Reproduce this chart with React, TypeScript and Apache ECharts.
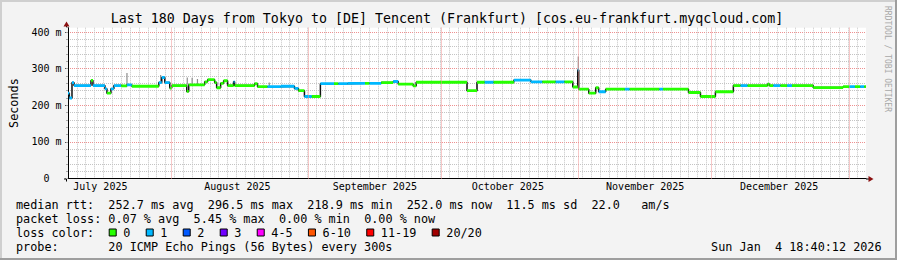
import React, { useEffect, useRef } from 'react';
import * as echarts from 'echarts';

const TITLE = 'Last 180 Days from Tokyo to [DE] Tencent (Frankfurt) [cos.eu-frankfurt.myqcloud.com]';
const Y_NAME = 'Seconds';
const Y_MAX = 412;
const X_DAYS = 180;
const MONTH_NAMES = ['July 2025', 'August 2025', 'September 2025', 'October 2025', 'November 2025', 'December 2025'];
const MONTH_LABEL_DAY = [7.3, 38.2, 69.2, 99.2, 130.2, 160.4];
const MONTH_START_DAY = [23.2, 54.2, 84.2, 115.2, 145.2, 176.2];

// median RTT steps (days since start, ms, packets lost of 20)
const SEG_START = [
  0, 0.3, 0.9, 1.35, 5.18, 5.63, 8.33, 8.78, 9.68, 10.35, 12.0, 13.28, 14.4, 20.48, 21.15, 21.83, 22.95, 23.4,
  26.78, 27.23, 30.83, 31.5, 33.08, 33.53, 34.43, 35.1, 36.0, 37.35, 37.58, 42.08, 42.75, 45.0, 48.0, 51.08,
  51.98, 53.33, 55.0, 56.93, 60.0, 61.0, 63.0, 67.0, 68.0, 70.65, 73.35, 74.48, 77.85, 78.53, 90.0, 92.26,
  94.0, 96.0, 100.58, 104.4, 107.0, 110.0, 112.0, 113.86, 114.98, 115.2, 117.46, 119.03, 119.7, 121.28, 125.6,
  126.7, 133.4, 134.2, 139.96, 142.66, 146.03, 150.08, 151.7, 153.3, 157.8, 158.2, 159.1, 160.7, 162.2, 163.3,
  168.08, 174.83, 176.2, 177.5, 178.7, 179.6,
];
const SEG_MEDIAN = [
  233, 220, 262, 254, 268, 254, 245, 233, 245, 254, 253, 256, 252, 262, 276, 262, 247, 254,
  238, 256, 264, 270, 262, 248, 260, 267, 254, 264, 254, 259, 251, 251, 252, 246,
  240, 224, 224, 259, 259, 259, 260, 260, 260, 262, 265, 258, 253, 263, 240, 263,
  263, 263, 269, 264, 264, 264, 264, 250, 296.5, 244, 233, 248, 237, 244, 244,
  244, 244, 244, 235, 224, 237, 254, 254, 254, 258, 254, 254, 254, 254, 254,
  248.5, 251, 251, 251, 251, 251,
];
const SEG_LOSS = [
  1, 1, 1, 1, 0, 1, 1, 0, 1, 1, 0, 1, 0, 1, 1, 1, 0, 0,
  0, 0, 0, 0, 0, 0, 0, 0, 0, 1, 0, 0, 0, 1, 1, 1,
  0, 1, 0, 1, 0, 1, 1, 0, 1, 0, 1, 0, 0, 0, 0, 0,
  1, 0, 1, 1, 0, 1, 0, 0, 1, 0, 0, 0, 1, 0, 1,
  0, 1, 0, 0, 0, 0, 0, 1, 0, 0, 0, 1, 0, 1, 0,
  0, 0, 1, 0, 1, 0,
];

// smoke (rtt spread) spikes
const SMOKE_DAY = [13.3, 20.9, 26.9, 28.0, 29.2, 45.4, 115.1];
const SMOKE_LO = [256, 265, 256, 256, 256, 252, 297];
const SMOKE_HI = [288, 283, 276, 275, 272, 262, 333];

const STAT_LINES = [
  'median rtt:  252.7 ms avg  296.5 ms max  218.9 ms min  252.0 ms now  11.5 ms sd  22.0   am/s',
  'packet loss: 0.07 % avg  5.45 % max  0.00 % min  0.00 % now',
];
const LOSS_TITLE = 'loss color:';
const LOSS_LABELS = ['0', '1', '2', '3', '4-5', '6-10', '11-19', '20/20'];
const LOSS_COLORS = ['#26ff00', '#00b8ff', '#0059ff', '#7000ff', '#ff00ff', '#ff5500', '#ff0000', '#a10000'];
const PROBE_LINE = 'probe:       20 ICMP Echo Pings (56 Bytes) every 300s';
const DATE_TEXT = 'Sun Jan  4 18:40:12 2026';
const WATERMARK = 'RRDTOOL / TOBI OETIKER';

const W = 897;
const H = 260;
const MONO = '"DejaVu Sans Mono", monospace';
const LFS = 11.8;
const CW = 0.6021 * LFS;
const LX = 16;
const ROW_Y = [204.5, 218.5, 232.5, 246.5];
const BOX0_X = 108.7;
const BOX_TEXT_GAP = 14.6;
const ENTRY_GAP = 15.3;

const GL = 66, GT = 27.7, GR = 31, GB = 81.5;
const AXIS_Y = H - GB;
const PLOT_R = W - GR;

function txt(x: number, y: number, text: string, font: string, align: string, fill = '#000', rotation = 0) {
  return {
    type: 'text', x, y, rotation, silent: true,
    style: {
      text, font, fill,
      textAlign: align, textVerticalAlign: 'middle',
      align, verticalAlign: 'middle',
    },
  };
}

function monoLine(line: string, x0: number, y: number) {
  const out: any[] = [];
  const re = /\S+(?: \S+)*/g;
  let m: RegExpExecArray | null;
  while ((m = re.exec(line))) {
    out.push(txt(x0 + m.index * CW, y, m[0], `${LFS}px ${MONO}`, 'left'));
  }
  return out;
}

function buildGraphic() {
  const g: any[] = [];
  // frame shading
  g.push({ type: 'rect', shape: { x: 0, y: 0, width: W, height: 2 }, style: { fill: '#cfcfcf' }, silent: true });
  g.push({ type: 'rect', shape: { x: 0, y: 0, width: 2, height: H }, style: { fill: '#cfcfcf' }, silent: true });
  g.push({ type: 'rect', shape: { x: 0, y: H - 2, width: W, height: 2 }, style: { fill: '#9e9e9e' }, silent: true });
  g.push({ type: 'rect', shape: { x: W - 2, y: 0, width: 2, height: H }, style: { fill: '#9e9e9e' }, silent: true });
  // title & watermark
  g.push(txt(447, 18.7, TITLE, `13.3px ${MONO}`, 'center'));
  g.push(txt(887, 59, WATERMARK, `8px ${MONO}`, 'center', '#a8a8a8', -Math.PI / 2));
  // axis extensions & arrows
  g.push({ type: 'line', shape: { x1: GL + 0.5, y1: GT, x2: GL + 0.5, y2: 25 }, style: { stroke: '#000', lineWidth: 1 }, silent: true });
  g.push({ type: 'line', shape: { x1: GL + 0.5, y1: AXIS_Y, x2: GL + 0.5, y2: AXIS_Y + 3 }, style: { stroke: '#000', lineWidth: 1 }, silent: true });
  g.push({ type: 'line', shape: { x1: PLOT_R, y1: AXIS_Y + 0.5, x2: PLOT_R + 3, y2: AXIS_Y + 0.5 }, style: { stroke: '#000', lineWidth: 1 }, silent: true });
  g.push({ type: 'line', shape: { x1: GL - 2, y1: AXIS_Y + 0.5, x2: GL, y2: AXIS_Y + 0.5 }, style: { stroke: '#000', lineWidth: 1 }, silent: true });
  g.push({ type: 'polygon', shape: { points: [[GL + 0.5, 21.5], [GL - 2.5, 26.5], [GL + 3.5, 26.5]] }, style: { fill: '#8b1010' }, silent: true });
  g.push({ type: 'polygon', shape: { points: [[PLOT_R + 7.5, AXIS_Y + 0.5], [PLOT_R + 2.5, AXIS_Y - 2.5], [PLOT_R + 2.5, AXIS_Y + 3.5]] }, style: { fill: '#8b1010' }, silent: true });
  // legend text rows
  STAT_LINES.forEach((l, i) => g.push(...monoLine(l, LX, ROW_Y[i])));
  g.push(...monoLine(LOSS_TITLE, LX, ROW_Y[2]));
  let bx = BOX0_X;
  LOSS_LABELS.forEach((lab, i) => {
    g.push({ type: 'rect', shape: { x: bx + 0.5, y: ROW_Y[2] - 3.5, width: 7, height: 7 }, style: { fill: LOSS_COLORS[i], stroke: '#000', lineWidth: 1 }, silent: true });
    g.push(txt(bx + BOX_TEXT_GAP, ROW_Y[2], lab, `${LFS}px ${MONO}`, 'left'));
    bx += BOX_TEXT_GAP + lab.length * CW + ENTRY_GAP;
  });
  g.push(...monoLine(PROBE_LINE, LX, ROW_Y[3]));
  g.push(...monoLine(DATE_TEXT, 881 - DATE_TEXT.length * CW + 0.6, ROW_Y[3]));
  return g;
}

function buildOption() {
  const stepData = SEG_START.map((s, i) => [s, SEG_MEDIAN[i]]);
  stepData.push([X_DAYS, SEG_MEDIAN[SEG_MEDIAN.length - 1]]);
  const segData = SEG_START.map((s, i) => [s, i + 1 < SEG_START.length ? SEG_START[i + 1] : X_DAYS, SEG_MEDIAN[i], SEG_LOSS[i]]);
  const smokeData = SMOKE_DAY.map((d, i) => [d, SMOKE_LO[i], SMOKE_HI[i]]);
  const axisFont = { fontFamily: MONO, fontSize: 10, color: '#000' };

  return {
    animation: false,
    backgroundColor: '#f3f3f3',
    grid: { left: GL, right: GR, top: GT, bottom: GB, show: true, backgroundColor: '#ffffff', borderWidth: 0, containLabel: false },
    xAxis: [{
      type: 'value', min: 0, max: X_DAYS, interval: 2,
      axisLine: { show: true, lineStyle: { color: '#000', width: 1 } },
      axisTick: { show: false },
      splitLine: { show: true, showMinLine: false, showMaxLine: false, lineStyle: { color: '#c4c4c4', type: 'dotted', width: 1 } },
      axisLabel: {
        ...axisFont, margin: 3,
        customValues: MONTH_LABEL_DAY,
        formatter: (v: number) => {
          const i = MONTH_LABEL_DAY.findIndex((d) => Math.abs(d - v) < 1e-6);
          return i >= 0 ? MONTH_NAMES[i] : '';
        },
      },
    }],
    yAxis: [
      {
        type: 'value', min: 0, max: Y_MAX, interval: 100, position: 'left',
        name: Y_NAME, nameLocation: 'middle', nameRotate: 90, nameGap: 48,
        nameTextStyle: { fontFamily: MONO, fontSize: LFS, color: '#000' },
        axisLine: { show: true, onZero: false, lineStyle: { color: '#000', width: 1 } },
        axisTick: { show: true, length: 3, lineStyle: { color: '#555' } },
        splitLine: { show: true, showMinLine: false, showMaxLine: false, lineStyle: { color: '#ee9090', type: 'dotted', width: 1 } },
        axisLabel: {
          ...axisFont, margin: 6.5, showMaxLabel: false,
          formatter: (v: number) => (v === 0 ? '{z|0}' : v % 100 === 0 ? `${v} m` : ''),
          rich: { z: { fontFamily: MONO, fontSize: 10, color: '#000', padding: [0, 12, 0, 0] } },
        },
      },
      {
        type: 'value', min: 0, max: Y_MAX, interval: 20, position: 'left',
        axisLine: { show: false },
        axisTick: { show: true, length: 2, lineStyle: { color: '#aaa' } },
        axisLabel: { show: false },
        splitLine: {
          show: true, showMinLine: true, showMaxLine: false,
          lineStyle: { color: ['transparent', '#c4c4c4', '#c4c4c4', '#c4c4c4', '#c4c4c4'], type: 'dotted', width: 1 },
        },
      },
    ],
    series: [
      {
        type: 'custom', name: 'smoke', z: 2, clip: true,
        encode: { x: 0, y: [1, 2] },
        data: smokeData,
        renderItem: (_p: any, api: any) => {
          const a = api.coord([api.value(0), api.value(1)]);
          const b = api.coord([api.value(0), api.value(2)]);
          return { type: 'line', shape: { x1: a[0], y1: a[1], x2: b[0], y2: b[1] }, style: { stroke: '#8c8c8c', lineWidth: 1.2 } };
        },
      },
      {
        type: 'line', name: 'median', step: 'end', z: 3, symbol: 'none',
        data: stepData,
        lineStyle: { color: '#111', width: 1.5 },
        markLine: {
          silent: true, symbol: ['none', 'none'], label: { show: false },
          lineStyle: { color: '#ee9090', type: 'dotted', width: 1 },
          data: MONTH_START_DAY.map((d) => ({ xAxis: d })),
        },
      },
      {
        type: 'custom', name: 'loss', z: 4, clip: true,
        encode: { x: [0, 1], y: 2 },
        data: segData,
        renderItem: (_p: any, api: any) => {
          const v = api.value(2);
          const p0 = api.coord([api.value(0), v]);
          const p1 = api.coord([api.value(1), v]);
          return {
            type: 'rect',
            shape: { x: p0[0], y: p0[1] - 1.4, width: Math.max(p1[0] - p0[0], 1), height: 2.8 },
            style: { fill: LOSS_COLORS[api.value(3)] },
          };
        },
      },
    ],
    graphic: buildGraphic(),
  };
}

export default function App() {
  const ref = useRef<HTMLDivElement>(null);
  useEffect(() => {
    document.body.style.margin = '0';
    const chart = echarts.init(ref.current!, null, { renderer: 'svg', width: W, height: H });
    chart.setOption(buildOption() as any);
    return () => chart.dispose();
  }, []);
  return <div ref={ref} style={{ width: W, height: H }} />;
}
